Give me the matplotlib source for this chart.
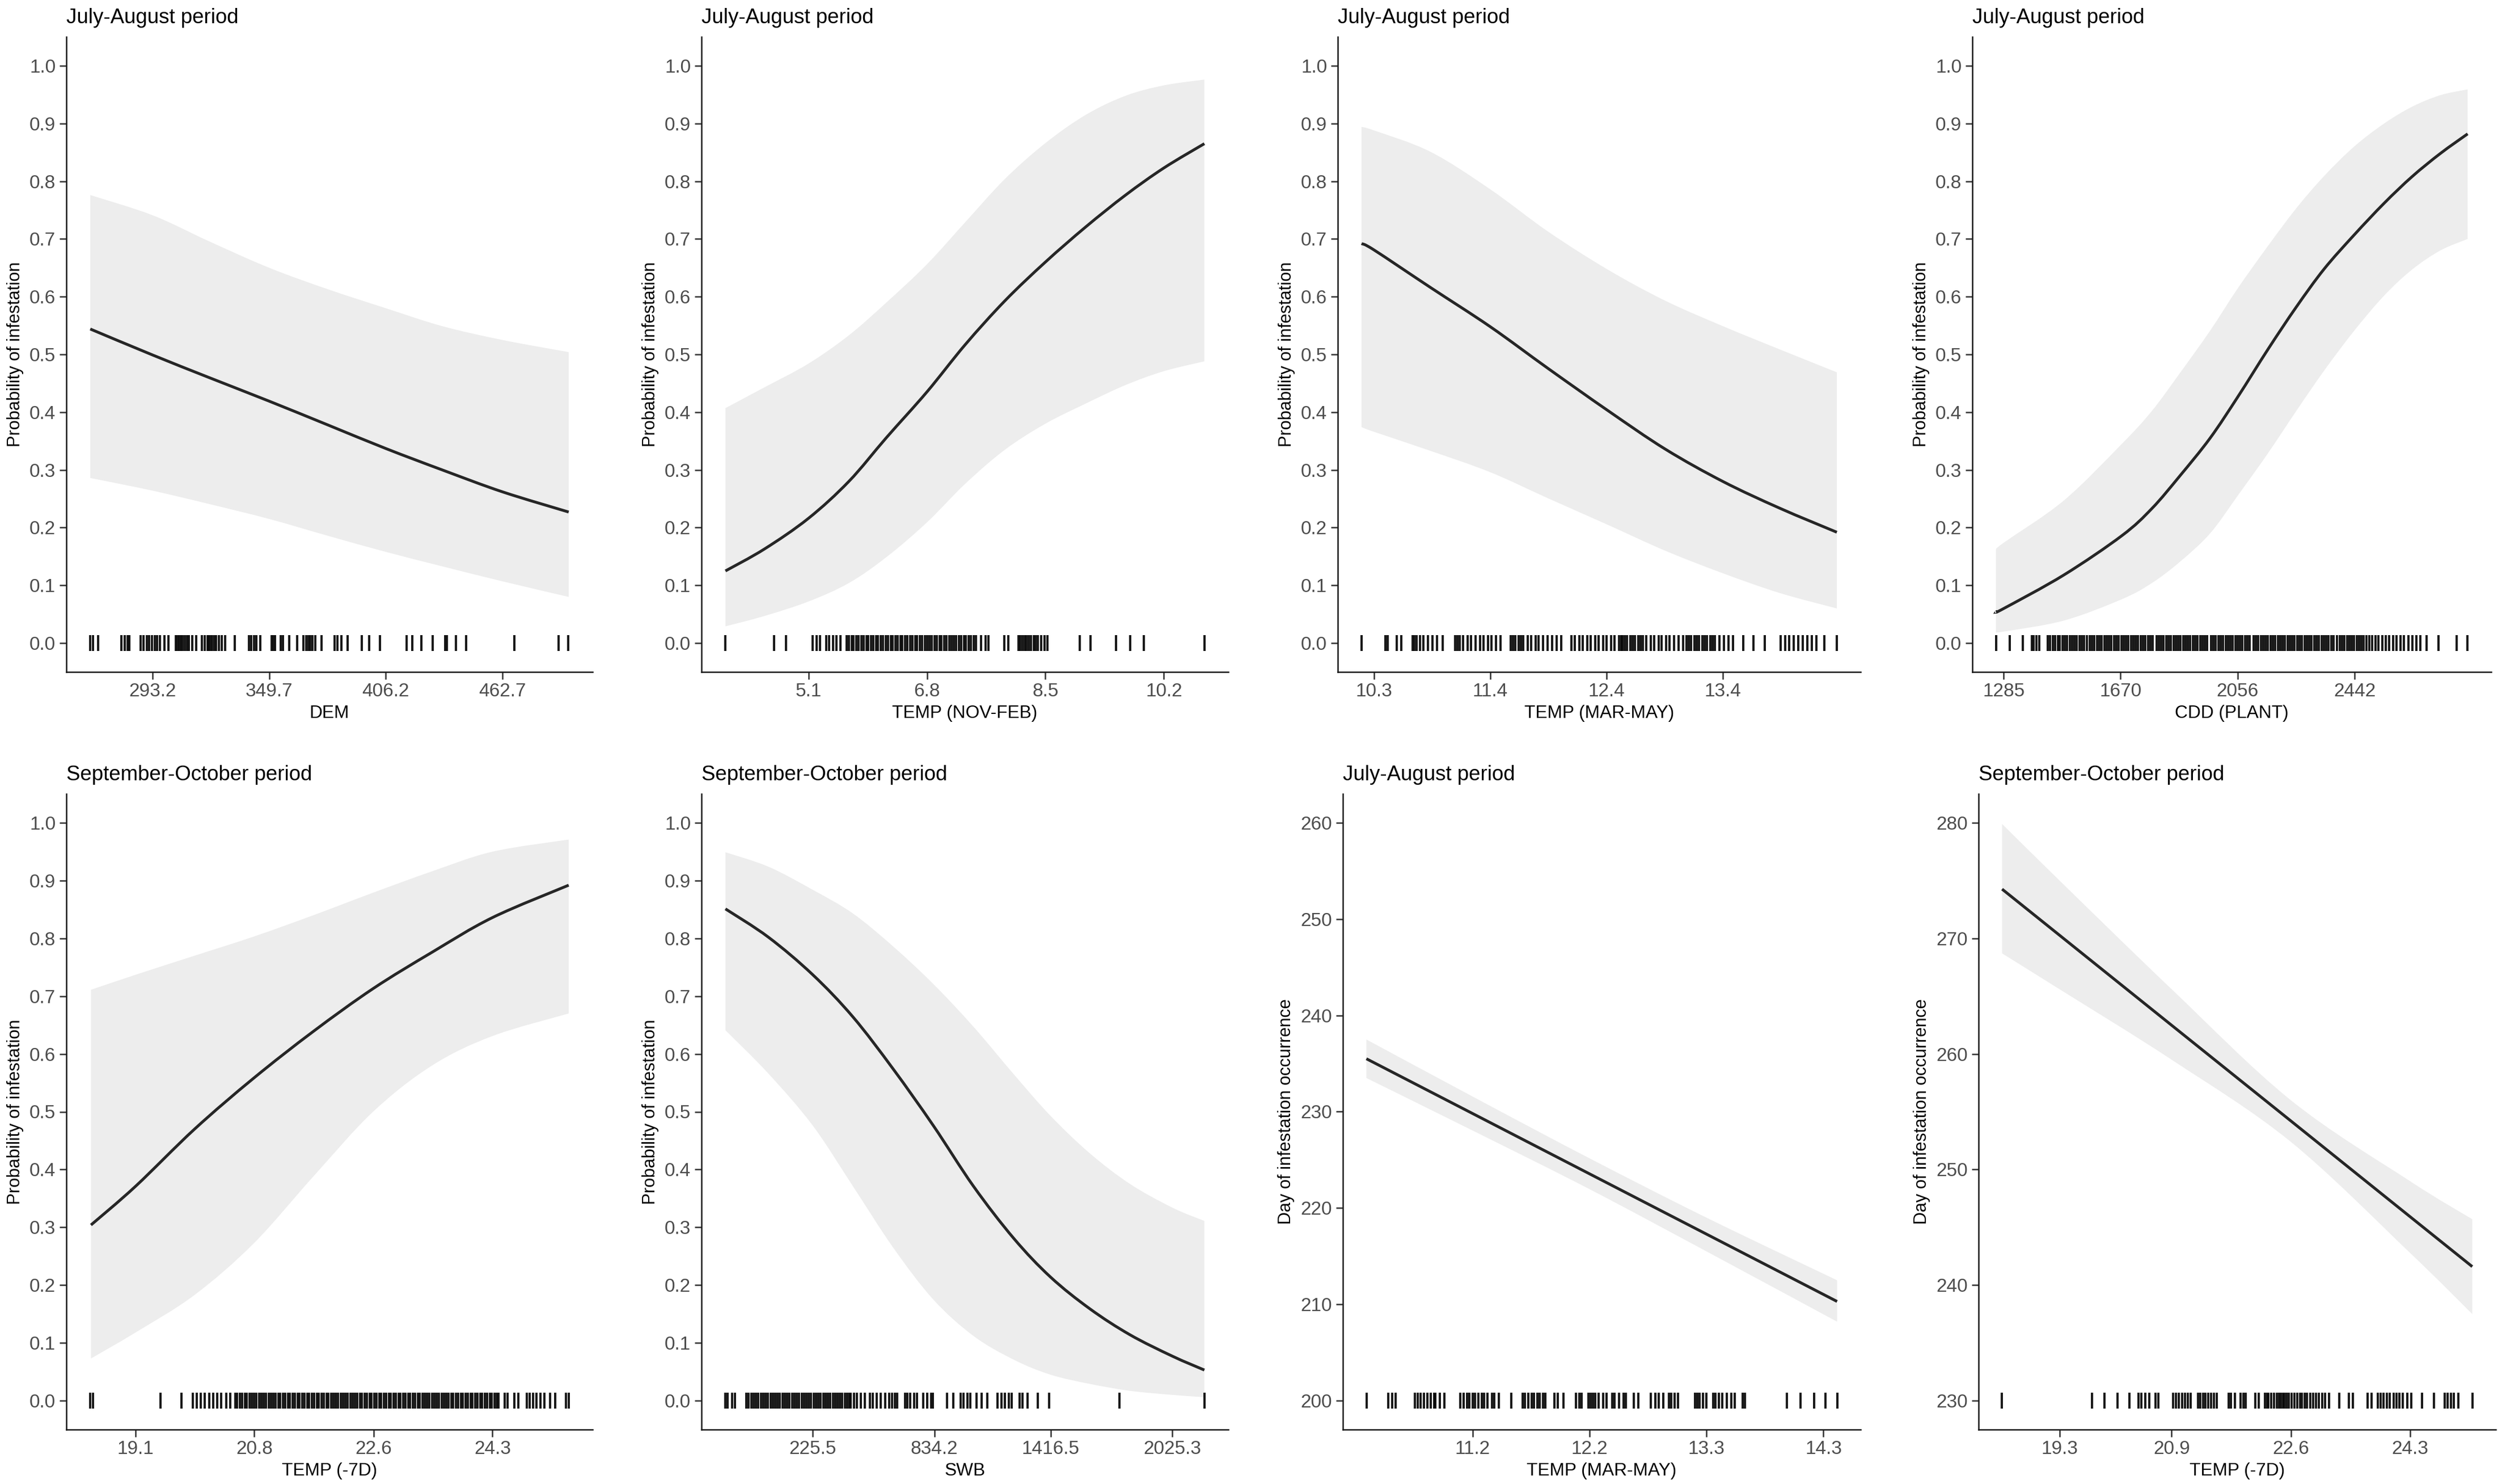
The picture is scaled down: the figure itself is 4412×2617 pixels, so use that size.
import matplotlib
matplotlib.use('Agg')
import matplotlib.pyplot as plt
from matplotlib.path import Path
from matplotlib.patches import PathPatch

plt.rcParams['font.family'] = ['Liberation Sans', 'DejaVu Sans']

FIG_W, FIG_H, DPI = 4412, 2617, 300

PROB_LABEL = 'Probability of infestation'
DAY_LABEL = 'Day of infestation occurrence'

# ---------------- panel 1: DEM (July-August)
dem_x = [263.0, 293.2, 320.5, 349.7, 378.0, 406.2, 433.5, 462.7, 494.8]
dem_fit = [0.544, 0.499, 0.460, 0.419, 0.378, 0.337, 0.300, 0.262, 0.227]
dem_hi = [0.776, 0.741, 0.696, 0.650, 0.613, 0.580, 0.549, 0.525, 0.504]
dem_lo = [0.286, 0.264, 0.241, 0.215, 0.186, 0.158, 0.133, 0.107, 0.080]
dem_rug = [263.0, 264.4, 266.9, 278.0, 279.6, 281.1, 281.9, 287.4, 288.9, 290.3,
           291.6, 292.8, 294.2, 295.5, 296.7, 299.0, 301.0, 304.5, 305.3, 306.1,
           306.8, 307.8, 308.8, 309.8, 310.7, 312.3, 314.2, 317.2, 318.5, 319.7,
           320.5, 321.3, 322.0, 323.0, 324.0, 325.3, 326.7, 328.3, 333.1, 340.0,
           340.9, 342.3, 343.5, 345.4, 350.9, 351.6, 352.4, 355.2, 356.5, 359.4,
           363.3, 366.3, 367.6, 368.8, 369.6, 370.7, 371.9, 375.0, 381.3, 382.8,
           384.8, 387.7, 394.5, 398.0, 403.3, 416.3, 418.9, 423.3, 429.0, 435.0,
           435.8, 440.3, 445.2, 468.5, 490.0, 494.5]
dem_ticks = [293.2, 349.7, 406.2, 462.7]

# ---------------- panel 2: TEMP (NOV-FEB) (July-August)
nf_x = [3.91, 4.47, 5.10, 5.68, 6.22, 6.80, 7.35, 7.92, 8.50, 9.08, 9.65, 10.20, 10.78]
nf_fit = [0.125, 0.163, 0.216, 0.280, 0.356, 0.435, 0.517, 0.593, 0.660, 0.721, 0.776, 0.823, 0.865]
nf_hi = [0.407, 0.443, 0.484, 0.533, 0.590, 0.656, 0.729, 0.804, 0.866, 0.915, 0.948, 0.966, 0.976]
nf_lo = [0.029, 0.047, 0.072, 0.104, 0.149, 0.209, 0.276, 0.335, 0.380, 0.415, 0.447, 0.471, 0.488]
nf_rug = [3.91, 4.61, 4.78, 5.16, 5.22, 5.27, 5.36, 5.40, 5.45, 5.50, 5.56,
          5.65, 5.68, 5.72, 5.75, 5.79, 5.82, 5.86, 5.89, 5.93, 5.96, 6.00, 6.03,
          6.07, 6.10, 6.14, 6.17, 6.21, 6.24, 6.28, 6.31, 6.35, 6.38, 6.42, 6.45,
          6.49, 6.52, 6.56, 6.59, 6.63, 6.66, 6.70, 6.73, 6.77, 6.80, 6.84, 6.87,
          6.91, 6.94, 6.98, 7.01, 7.05, 7.08, 7.12, 7.15, 7.19, 7.22, 7.26, 7.29,
          7.33, 7.36, 7.40, 7.43, 7.47, 7.50, 7.58, 7.64, 7.68, 7.91, 7.97, 8.11,
          8.14, 8.17, 8.20, 8.23, 8.26, 8.29, 8.33, 8.36, 8.39, 8.44, 8.49, 8.53,
          8.99, 9.15, 9.51, 9.72, 9.91, 10.78]
nf_ticks = [5.1, 6.8, 8.5, 10.2]

# ---------------- panel 3: TEMP (MAR-MAY) (July-August)
mm_x = [10.23, 10.34, 10.84, 11.37, 11.88, 12.41, 12.92, 13.43, 13.93, 14.44]
mm_fit = [0.692, 0.681, 0.616, 0.548, 0.476, 0.403, 0.336, 0.280, 0.234, 0.192]
mm_hi = [0.894, 0.888, 0.851, 0.786, 0.713, 0.647, 0.593, 0.549, 0.509, 0.469]
mm_lo = [0.374, 0.366, 0.333, 0.296, 0.251, 0.205, 0.160, 0.121, 0.087, 0.060]
mm_rug = [10.23, 10.44, 10.46, 10.54, 10.58,
          10.68, 10.70, 10.72, 10.75, 10.78, 10.82, 10.86, 10.90, 10.95,
          11.06, 11.08, 11.10, 11.13, 11.17, 11.20, 11.24, 11.28, 11.31, 11.35,
          11.38, 11.42, 11.46,
          11.55, 11.57, 11.59, 11.62, 11.64, 11.66, 11.70, 11.73, 11.77, 11.80,
          11.84, 11.88, 11.92, 11.96, 12.00,
          12.09, 12.12, 12.16, 12.19, 12.23, 12.26, 12.30, 12.33, 12.37, 12.40,
          12.44, 12.47, 12.51, 12.53, 12.54, 12.56, 12.58, 12.61, 12.63, 12.65,
          12.68, 12.70, 12.72, 12.75, 12.79, 12.82, 12.86, 12.89, 12.93, 12.96,
          13.00, 13.04,
          13.08, 13.11, 13.13, 13.15, 13.18, 13.20, 13.22, 13.25, 13.27, 13.29,
          13.32, 13.34, 13.36, 13.40, 13.44, 13.48, 13.52,
          13.61, 13.70, 13.80,
          13.94, 13.98, 14.02, 14.06, 14.10, 14.14, 14.18, 14.22, 14.26, 14.33, 14.44]
mm_ticks = [10.34, 11.37, 12.40, 13.43]
mm_labels = ['10.3', '11.4', '12.4', '13.4']

# ---------------- panel 4: CDD (PLANT) (July-August)
cdd_x = [1259, 1285, 1483, 1674, 1773, 1866, 1965, 2057, 2156, 2249, 2341, 2440,
         2539, 2631, 2724, 2814]
cdd_fit = [0.054, 0.060, 0.118, 0.186, 0.233, 0.290, 0.355, 0.427, 0.509, 0.582,
           0.648, 0.707, 0.762, 0.808, 0.848, 0.882]
cdd_hi = [0.162, 0.174, 0.247, 0.345, 0.402, 0.468, 0.541, 0.615, 0.688, 0.753,
          0.809, 0.860, 0.900, 0.929, 0.949, 0.959]
cdd_lo = [0.019, 0.020, 0.039, 0.076, 0.104, 0.141, 0.190, 0.256, 0.329, 0.402,
          0.472, 0.541, 0.602, 0.647, 0.680, 0.700]
cdd_rug = [1259, 1305, 1348, 1377, 1384, 1393, 1401, 1430, 1437, 1446, 1454, 1463, 1470,
           1478, 1486, 1494, 1502, 1510, 1518, 1526, 1534, 1542, 1550, 1558, 1568,
           1576, 1584, 1592, 1600, 1608, 1616, 1624, 1632, 1640, 1648, 1656, 1664,
           1672, 1680, 1688, 1696, 1704, 1712, 1720, 1728, 1736, 1744, 1752, 1760,
           1768, 1776, 1788, 1796, 1804, 1812, 1820, 1828, 1836, 1844, 1852, 1860,
           1868, 1876, 1884, 1892, 1900, 1908, 1916, 1924, 1932, 1940, 1948, 1956,
           1968, 1976, 1984, 1992, 2000, 2008, 2016, 2024, 2032, 2040, 2048, 2056,
           2064, 2072, 2080, 2088, 2096, 2108, 2116, 2124, 2132, 2140, 2148, 2156,
           2164, 2172, 2180, 2188, 2196, 2204, 2212, 2220, 2228, 2236, 2244, 2252,
           2260, 2268, 2276, 2284, 2292, 2300, 2308, 2316, 2324, 2332, 2340, 2348,
           2356, 2364, 2372, 2384, 2392, 2400, 2408, 2416, 2424, 2432, 2440, 2448,
           2456, 2464, 2472, 2480, 2490, 2500, 2510, 2520, 2532, 2544, 2556, 2568,
           2580, 2592, 2604,
           2618, 2631, 2645, 2658, 2678, 2717, 2777, 2814]
cdd_ticks = [1285, 1670, 2056, 2442]

# ---------------- panel 5: TEMP (-7D) (September-October)
t7_x = [18.45, 19.10, 19.96, 20.82, 21.69, 22.56, 23.42, 24.30, 25.41]
t7_fit = [0.304, 0.371, 0.470, 0.558, 0.639, 0.713, 0.776, 0.836, 0.892]
t7_hi = [0.711, 0.737, 0.770, 0.803, 0.840, 0.879, 0.916, 0.950, 0.971]
t7_lo = [0.073, 0.118, 0.183, 0.272, 0.388, 0.500, 0.580, 0.631, 0.670]
t7_rug = [18.44, 18.48, 19.46, 19.77, 19.93, 19.99, 20.05, 20.11, 20.17, 20.23,
          20.29, 20.35, 20.42, 20.48,
          20.55, 20.58, 20.62, 20.65, 20.69, 20.72, 20.76, 20.79, 20.83, 20.86,
          20.90, 20.93, 20.97, 21.00, 21.04, 21.07, 21.11, 21.14, 21.18, 21.21,
          21.25, 21.28, 21.32, 21.35, 21.39, 21.42, 21.46, 21.49, 21.53, 21.56,
          21.60, 21.63, 21.67, 21.70, 21.74, 21.77, 21.81, 21.84, 21.88, 21.91,
          21.95, 21.98, 22.02, 22.05, 22.09, 22.12, 22.16, 22.19, 22.23, 22.26,
          22.30, 22.33, 22.37, 22.40, 22.44, 22.47, 22.51, 22.54, 22.58, 22.61,
          22.65, 22.68, 22.72, 22.75, 22.79, 22.82, 22.86, 22.89, 22.93, 22.96,
          23.00, 23.03, 23.07, 23.10, 23.14, 23.17, 23.21, 23.24, 23.28, 23.31,
          23.35, 23.38, 23.42, 23.45, 23.49, 23.52, 23.56, 23.59, 23.63, 23.66,
          23.70, 23.73, 23.77, 23.80, 23.84, 23.87, 23.91, 23.94, 23.98, 24.01,
          24.05, 24.08, 24.12, 24.15, 24.19, 24.22, 24.26, 24.29, 24.33, 24.36,
          24.39, 24.48, 24.52, 24.62, 24.68, 24.80, 24.84, 24.89, 24.94, 25.00,
          25.06, 25.14, 25.21, 25.37, 25.41]
t7_ticks = [19.10, 20.83, 22.57, 24.30]
t7_labels = ['19.1', '20.8', '22.6', '24.3']

# ---------------- panel 6: SWB (September-October)
swb_x = [-211, 4, 226, 427, 628, 829, 1030, 1231, 1415, 1612, 1813, 2025, 2185]
swb_fit = [0.851, 0.802, 0.737, 0.664, 0.574, 0.476, 0.371, 0.281, 0.214, 0.159,
           0.114, 0.077, 0.053]
swb_hi = [0.949, 0.924, 0.884, 0.843, 0.786, 0.721, 0.647, 0.565, 0.493, 0.428,
          0.375, 0.334, 0.311]
swb_lo = [0.641, 0.566, 0.476, 0.371, 0.265, 0.175, 0.112, 0.071, 0.045, 0.029,
          0.017, 0.010, 0.006]
swb_rug = [-211, -201, -177, -164,
           -106, -94, -82, -70, -58, -46, -34, -22, -10, 2, 14, 26, 38, 50, 62, 74,
           86, 98, 110, 122, 134, 146, 158, 170, 182, 194, 206, 218, 230, 242, 254,
           266, 278, 290, 302, 314, 326, 338, 350, 362, 374, 386, 398, 410, 416,
           431, 447, 467, 487, 511, 527, 547, 567, 587, 607, 623, 637, 648, 688,
           698, 712, 732, 748, 778, 798, 818, 828, 899, 929, 965, 979, 999, 1013,
           1046, 1070, 1100, 1150, 1170, 1186, 1206, 1220, 1261, 1275, 1301, 1351,
           1407, 1759, 2185]
swb_ticks = [225.5, 834.2, 1416.5, 2025.3]
swb_labels = ['225.5', '834.2', '1416.5', '2025.3']

# ---------------- panel 7: day vs TEMP (MAR-MAY) (July-August)
dmm_x = [10.265, 11.26, 12.24, 13.26, 14.41]
dmm_fit = [235.5, 229.45, 223.49, 217.29, 210.3]
dmm_hi = [237.5, 231.2, 225.1, 219.0, 212.5]
dmm_lo = [233.5, 227.7, 221.9, 215.5, 208.2]
dmm_rug = [10.265, 10.458, 10.493, 10.522, 10.69, 10.715, 10.74, 10.77, 10.80,
           10.83, 10.86, 10.87, 10.91, 10.95, 11.09, 11.12, 11.15, 11.17, 11.20,
           11.22, 11.25, 11.28, 11.30, 11.33, 11.37, 11.39, 11.43, 11.54, 11.64,
           11.66, 11.69, 11.72, 11.74, 11.77, 11.79, 11.82, 11.84, 11.92, 11.95,
           12.00, 12.11, 12.14, 12.16, 12.22, 12.24, 12.26, 12.28, 12.31, 12.35,
           12.38, 12.43, 12.45, 12.49, 12.53, 12.55, 12.62, 12.66, 12.77, 12.81,
           12.84, 12.88, 12.93, 12.95, 12.98, 13.01, 13.16, 13.18, 13.20, 13.23,
           13.26, 13.32, 13.34, 13.37, 13.40, 13.44, 13.48, 13.51, 13.58, 13.60,
           13.97, 14.09, 14.21, 14.31, 14.41]
dmm_ticks = [11.20, 12.23, 13.26, 14.29]
dmm_labels = ['11.2', '12.2', '13.3', '14.3']

# ---------------- panel 8: day vs TEMP (-7D) (September-October)
d7_x = [18.48, 19.3, 20.9, 22.6, 24.3, 25.19]
d7_fit = [274.26, 270.27, 262.48, 254.21, 245.93, 241.6]
d7_hi = [279.9, 275.0, 265.6, 256.0, 249.0, 245.7]
d7_lo = [268.7, 265.6, 259.5, 252.4, 242.8, 237.5]
d7_rug = [18.48, 19.76, 19.94, 20.13, 20.30, 20.43, 20.47, 20.52, 20.58, 20.67,
          20.71, 20.92, 20.96, 21.00, 21.05, 21.09, 21.13, 21.17, 21.28, 21.31,
          21.35, 21.38, 21.42, 21.46, 21.50, 21.54, 21.71, 21.75, 21.80, 21.88,
          21.92, 21.96, 22.09, 22.14, 22.23, 22.26, 22.28, 22.32, 22.36, 22.40,
          22.43, 22.46, 22.49, 22.51, 22.54, 22.57, 22.61, 22.65, 22.69, 22.73,
          22.76, 22.80, 22.83, 22.88, 22.92, 22.96, 23.00, 23.05, 23.09, 23.15,
          23.29, 23.43, 23.49, 23.70, 23.75, 23.84, 23.88, 23.92, 23.97, 24.01,
          24.07, 24.11, 24.15, 24.20, 24.26, 24.32, 24.47, 24.64, 24.80, 24.84,
          24.89, 24.93, 24.99, 25.19]
d7_ticks = [19.3, 20.9, 22.6, 24.3]

prob_yticks = [0.0, 0.1, 0.2, 0.3, 0.4, 0.5, 0.6, 0.7, 0.8, 0.9, 1.0]
day_jul_yticks = [200, 210, 220, 230, 240, 250, 260]
day_sep_yticks = [230, 240, 250, 260, 270, 280]


def px_rect(left, top, right, bottom):
    ''' axes rectangle in figure fractions from pixel edges '''
    return [left / FIG_W, 1 - bottom / FIG_H, (right - left) / FIG_W, (bottom - top) / FIG_H]


def smooth_vertices(x, y):
    ''' cubic bezier vertices (catmull-rom) running through the read points '''
    pts = list(zip(x, y))
    n = len(pts)
    verts = [pts[0]]
    for i in range(n - 1):
        p0 = pts[i - 1] if i > 0 else pts[i]
        p1 = pts[i]
        p2 = pts[i + 1]
        p3 = pts[i + 2] if i + 2 < n else pts[i + 1]
        c1 = (p1[0] + (p2[0] - p0[0]) / 6.0, p1[1] + (p2[1] - p0[1]) / 6.0)
        c2 = (p2[0] - (p3[0] - p1[0]) / 6.0, p2[1] - (p3[1] - p1[1]) / 6.0)
        verts += [c1, c2, p2]
    return verts


def curve_path(x, y):
    verts = smooth_vertices(x, y)
    codes = [Path.MOVETO] + [Path.CURVE4] * (len(verts) - 1)
    return Path(verts, codes)


def band_path(x, lo, hi):
    upper = smooth_vertices(x, hi)
    lower = smooth_vertices(x[::-1], lo[::-1])
    verts = upper + lower + [upper[0]]
    codes = ([Path.MOVETO] + [Path.CURVE4] * (len(upper) - 1) +
             [Path.LINETO] + [Path.CURVE4] * (len(lower) - 1) + [Path.CLOSEPOLY])
    return Path(verts, codes)


def draw_panel(fig, rect, title, xlabel, ylabel, x, fit, lo, hi, rug, rug_y,
               xticks, xticklabels, yticks, ylim, yfmt):
    ax = fig.add_axes(rect)

    # confidence band and fitted line
    ax.add_patch(PathPatch(band_path(x, lo, hi), facecolor='#ededed',
                           edgecolor='none', zorder=1))
    ax.add_patch(PathPatch(curve_path(x, fit), facecolor='none', edgecolor='#262626',
                           linewidth=1.2, capstyle='butt', zorder=3))

    # rug of observations
    ax.plot(rug, [rug_y] * len(rug), linestyle='none', marker='|', markersize=6.6,
            markeredgewidth=0.95, color='black', alpha=0.9, zorder=2)

    ax.set_ylim(*ylim)
    ax.set_yticks(yticks)
    ax.set_yticklabels([yfmt % v for v in yticks])
    ax.set_xticks(xticks)
    if xticklabels is None:
        xticklabels = [('%g' % v) for v in xticks]
    ax.set_xticklabels(xticklabels)

    # classic theme
    for side in ['top', 'right']:
        ax.spines[side].set_visible(False)
    for side in ['left', 'bottom']:
        ax.spines[side].set_color('#1a1a1a')
        ax.spines[side].set_linewidth(0.6)
    ax.tick_params(axis='both', length=3.0, width=0.6, color='#333333',
                   labelcolor='#4d4d4d', labelsize=8, pad=1.5)

    ax.set_xlabel(xlabel, fontsize=7.6, labelpad=2)
    ax.set_ylabel(ylabel, fontsize=7.4, labelpad=2.5)
    ax.annotate(title, xy=(0, 1), xycoords='axes fraction', xytext=(0, 5.8),
                textcoords='offset points', ha='left', va='baseline', fontsize=8.8)
    return ax


fig = plt.figure(figsize=(FIG_W / DPI, FIG_H / DPI), dpi=DPI)
fig.patch.set_facecolor('white')

JA = 'July-August period'
SO = 'September-October period'
PROB_YLIM = (-0.05, 1.05)

# top row
draw_panel(fig, px_rect(117, 65, 1045, 1185), JA, 'DEM', PROB_LABEL,
           dem_x, dem_fit, dem_lo, dem_hi, dem_rug, 0.0,
           dem_ticks, None, prob_yticks, PROB_YLIM, '%.1f')
draw_panel(fig, px_rect(1237, 65, 2166, 1185), JA, 'TEMP (NOV-FEB)', PROB_LABEL,
           nf_x, nf_fit, nf_lo, nf_hi, nf_rug, 0.0,
           nf_ticks, None, prob_yticks, PROB_YLIM, '%.1f')
draw_panel(fig, px_rect(2359, 65, 3281, 1185), JA, 'TEMP (MAR-MAY)', PROB_LABEL,
           mm_x, mm_fit, mm_lo, mm_hi, mm_rug, 0.0,
           mm_ticks, mm_labels, prob_yticks, PROB_YLIM, '%.1f')
draw_panel(fig, px_rect(3478, 65, 4393, 1185), JA, 'CDD (PLANT)', PROB_LABEL,
           cdd_x, cdd_fit, cdd_lo, cdd_hi, cdd_rug, 0.0,
           cdd_ticks, None, prob_yticks, PROB_YLIM, '%.1f')

# bottom row
draw_panel(fig, px_rect(117, 1400, 1045, 2521), SO, 'TEMP (-7D)', PROB_LABEL,
           t7_x, t7_fit, t7_lo, t7_hi, t7_rug, 0.0,
           t7_ticks, t7_labels, prob_yticks, PROB_YLIM, '%.1f')
draw_panel(fig, px_rect(1237, 1400, 2166, 2521), SO, 'SWB', PROB_LABEL,
           swb_x, swb_fit, swb_lo, swb_hi, swb_rug, 0.0,
           swb_ticks, swb_labels, prob_yticks, PROB_YLIM, '%.1f')
draw_panel(fig, px_rect(2368, 1400, 3281, 2521), JA, 'TEMP (MAR-MAY)', DAY_LABEL,
           dmm_x, dmm_fit, dmm_lo, dmm_hi, dmm_rug, 200,
           dmm_ticks, dmm_labels, day_jul_yticks, (197.0, 263.0), '%d')
draw_panel(fig, px_rect(3489, 1400, 4401, 2521), SO, 'TEMP (-7D)', DAY_LABEL,
           d7_x, d7_fit, d7_lo, d7_hi, d7_rug, 230,
           d7_ticks, None, day_sep_yticks, (227.5, 282.5), '%d')

fig.savefig('out.png', dpi=DPI, facecolor='white')
